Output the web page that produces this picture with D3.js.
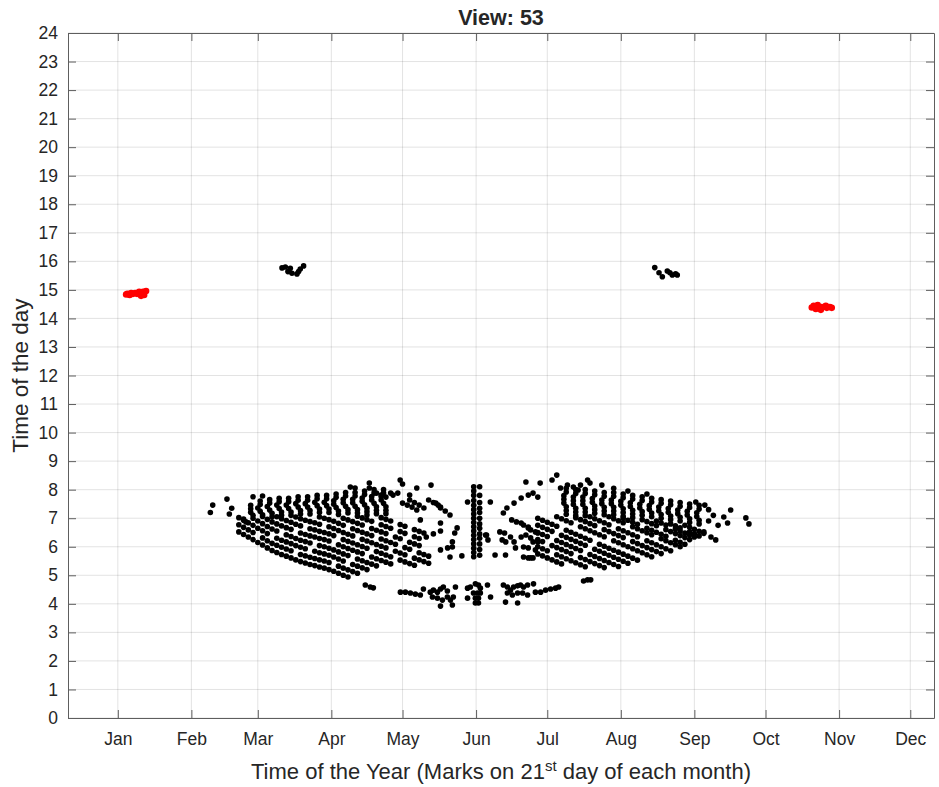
<!DOCTYPE html>
<html>
<head>
<meta charset="utf-8">
<script src="https://cdn.jsdelivr.net/npm/d3@7"></script>
<style>
  body { margin: 0; background: #fff; }
  svg { display: block; }
  text { font-family: Helvetica, "Liberation Sans", Arial, sans-serif; fill: #262626; }
</style>
</head>
<body>
<div id="chart"></div>
<script>
// Axis labels and ticks
const monthLabels = ['Jan', 'Feb', 'Mar', 'Apr', 'May', 'Jun', 'Jul', 'Aug', 'Sep', 'Oct', 'Nov', 'Dec'];
const monthTickDays = [21, 52, 80, 111, 141, 172, 202, 233, 264, 294, 325, 355];
const hourTicks = [0,1,2,3,4,5,6,7,8,9,10,11,12,13,14,15,16,17,18,19,20,21,22,23,24];

// [day of year, hour of day]
const redPoints = [
  [25,14.86],[26.6,14.89],[28.3,14.89],[30,14.93],[31.6,14.93],[32.9,14.96],[30.8,14.79],[29.1,14.86],[27.4,14.86],[32.1,14.82],[26,14.82],[24.5,14.84],
  [314.3,14.44],[316,14.47],[317.7,14.40],[319.4,14.44],[321.1,14.40],[321.9,14.37],[315.2,14.33],[317.3,14.30],[319.8,14.37],[313.5,14.38]
];

const topBlack = [
  [90.2,15.77],[91.6,15.80],[92.7,15.64],[93.7,15.76],[94.4,15.58],[96.5,15.56],[97.2,15.64],[97.9,15.73],[99.3,15.84],
  [247.3,15.78],[249.1,15.60],[250.5,15.46],[252.6,15.66],[253.7,15.60],[254.7,15.52],[256.1,15.56],[256.8,15.52]
];

const leftSparse = [
  [61,7.46],[60,7.20],[67,7.67],[69,7.35],[68,7.15],[74,6.97],[75,6.87],[78,7.75],[82,7.78],
  [140,8.34],[141,8.20],[153,8.16],[147,8.06],[127,8.23],[127,8.06],[121,8.06],[119,8.09],
  [130,7.88],[132,7.81],[134,7.74],[136,7.88],[137,7.81],[139,7.88],[144,7.81],
  [141,7.53],[143,7.46],[145,7.39],[147,7.29],
  [144,7.64],[146,7.55],[148,7.46],[150,7.36],
  [152,7.64],[154,7.55],[156,7.46],[157,7.36],
  [155,7.53],[157,7.39],[159,7.25],[161,7.11],
  [148.5,6.94],[157,6.83],[163,6.48],[164,6.66],
  [151,6.34],[154,6.45],[157,6.55],
  [157,5.89],[160,5.96],[162,5.99],[161,5.64],[166,5.68],[162,6.17]
];

const leftArcs = [
  [77,7.45],[77,7.33],[77,7.21],[78,7.10],
  [81,7.60],[81,7.48],[80,7.36],[81,7.24],[82,7.12],
  [85,7.65],[85,7.53],[84,7.41],[85,7.29],[86,7.17],[86,7.05],
  [89,7.70],[89,7.58],[88,7.46],[89,7.34],[90,7.22],[90,7.10],
  [93,7.70],[93,7.58],[92,7.46],[93,7.34],[94,7.22],[94,7.10],
  [97,7.75],[97,7.63],[96,7.51],[97,7.39],[98,7.27],[98,7.15],
  [101,7.75],[101,7.63],[100,7.51],[101,7.39],[102,7.27],[102,7.15],
  [105,7.80],[105,7.68],[104,7.56],[105,7.44],[106,7.32],[106,7.20],
  [109,7.80],[109,7.68],[108,7.56],[109,7.44],[110,7.32],[110,7.20],
  [113,7.85],[113,7.73],[112,7.61],[112,7.49],[113,7.37],[114,7.25],[114,7.13],
  [117,7.90],[117,7.78],[116,7.66],[116,7.54],[117,7.42],[118,7.30],[118,7.18],
  [121,7.90],[121,7.78],[120,7.66],[120,7.54],[121,7.42],[122,7.30],[122,7.18],
  [125,7.95],[125,7.83],[124,7.71],[124,7.59],[125,7.47],[126,7.35],[126,7.23],[126,7.11],
  [129,8.00],[129,7.88],[128,7.76],[128,7.64],[129,7.52],[130,7.40],[130,7.28],[130,7.16],
  [133,8.00],[133,7.88],[132,7.76],[132,7.64],[133,7.52],[134,7.40],[134,7.28],[134,7.16]
];

const leftStreaks = [
  [72,6.52],[74,6.43],[76,6.34],[78,6.25],[80,6.15],[82,6.06],[84,5.96],[86,5.87],[88,5.80],[90,5.73],[92,5.67],[94,5.61],
  [96,5.54],[98,5.48],[100,5.43],[102,5.38],[104,5.34],[106,5.29],[108,5.25],[110,5.20],[112,5.14],[114,5.07],[116,5.00],[118,4.94],
  [72,6.77],[74,6.68],[76,6.59],[78,6.50],[82,6.31],[84,6.21],[86,6.12],[88,6.05],[90,5.98],[92,5.92],[94,5.86],[98,5.73],
  [100,5.68],[102,5.63],[104,5.59],[106,5.54],[108,5.50],[110,5.45],[114,5.32],[116,5.25],[118,5.19],[120,5.13],[122,5.07],
  [72,7.02],[74,6.93],[76,6.84],[78,6.75],[80,6.65],[82,6.56],[84,6.46],[88,6.30],[90,6.23],[92,6.17],[94,6.11],[96,6.04],
  [98,5.98],[100,5.93],[104,5.84],[106,5.79],[108,5.75],[110,5.70],[112,5.64],[114,5.57],[116,5.50],[120,5.38],[122,5.32],[124,5.26],[126,5.20],
  [78,7.00],[80,6.90],[82,6.81],[84,6.71],[86,6.62],[88,6.55],[92,6.42],[94,6.36],[96,6.29],[98,6.23],[100,6.18],[102,6.13],
  [106,6.04],[108,6.00],[110,5.95],[112,5.89],[114,5.82],[116,5.75],[118,5.69],[122,5.57],[124,5.51],[126,5.45],[128,5.39],[130,5.33],
  [82,7.06],[84,6.96],[86,6.87],[88,6.80],[90,6.73],[92,6.67],[94,6.61],[98,6.48],[100,6.43],[102,6.38],[104,6.34],[106,6.29],
  [108,6.25],[110,6.20],[114,6.07],[116,6.00],[118,5.94],[120,5.88],[122,5.82],[124,5.76],[128,5.64],[130,5.58],[132,5.52],[134,5.46],[136,5.40],
  [88,7.05],[90,6.98],[92,6.92],[94,6.86],[96,6.79],[98,6.73],[102,6.63],[104,6.59],[106,6.54],[108,6.50],[110,6.45],[112,6.39],
  [116,6.25],[118,6.19],[120,6.13],[122,6.07],[124,6.01],[126,5.95],[130,5.83],[132,5.77],[134,5.71],[136,5.65],[140,5.53],[142,5.47],[144,5.41],[146,5.35],
  [96,7.04],[98,6.98],[100,6.93],[102,6.88],[104,6.84],[106,6.79],[110,6.70],[112,6.64],[114,6.57],[116,6.50],[118,6.44],[120,6.38],
  [124,6.26],[126,6.20],[128,6.14],[130,6.08],[132,6.02],[134,5.96],[138,5.84],[140,5.78],[142,5.72],[146,5.60],[148,5.54],[150,5.48],[152,5.42],
  [106,7.04],[108,7.00],[110,6.95],[112,6.89],[114,6.82],[116,6.75],[120,6.63],[122,6.57],[124,6.51],[126,6.45],[128,6.39],
  [132,6.27],[134,6.21],[136,6.15],[138,6.09],[142,5.97],[144,5.91],[148,5.79],[150,5.73],[152,5.67],
  [116,7.00],[118,6.94],[120,6.88],[122,6.82],[124,6.76],[128,6.64],[130,6.58],[132,6.52],[134,6.46],[138,6.34],[140,6.28],[144,6.16],[146,6.10],[148,6.04],
  [122,7.07],[124,7.01],[126,6.95],[128,6.89],[132,6.77],[134,6.71],[136,6.65],[140,6.53],[142,6.47],[146,6.35],[148,6.29],
  [132,7.02],[134,6.96],[136,6.90],[140,6.78],[142,6.72],[146,6.60],[148,6.54],[150,6.48]
];

const junColumn = [
  [171,8.10],[171,7.95],[171,7.80],[171,7.62],[171,7.45],[171,7.30],[171,7.15],[171,7.00],[171,6.85],[171,6.70],[171,6.55],[171,6.40],[171,6.25],[171,6.10],[171,5.95],[171,5.80],[171,5.65],
  [173.5,8.10],[173.5,7.80],[173.5,7.55],[173.5,7.35],[173.5,7.20],[173.5,7.00],[173.5,6.80],[173.5,6.65],[173.5,6.45],[173.5,6.30],[173.5,6.10],[173.5,5.90],[173.5,5.70],
  [168.4,7.57],[176.4,6.41]
];

const dawnPoints = [
  [125.3,4.66],[127.4,4.59],[128.7,4.56],
  [140.1,4.41],[142.2,4.41],[144.3,4.38],[146.4,4.34],[148.5,4.31],[149.8,4.52],
  [152.7,4.41],[154,4.48],[155.7,4.41],[157,4.52],[158.2,4.59],[159.9,4.45],[153.6,4.24],[155.7,4.20],[157.8,4.13],[159.9,4.24],[161.2,4.13],[163.3,4.59],[162.4,4.24],[157,3.92],[162,3.96],
  [168.4,4.55],[169.6,4.59],[171.7,4.70],[173,4.66],[173.8,4.55],[172.6,4.38],[170.9,4.38],[173.8,4.38],[171.7,4.20],[173,4.20],[171.7,4.03],[173,4.03],[168.4,4.20],[178.1,4.24],[176.8,4.66],
  [183.5,4.66],[185.2,4.59],[186.5,4.48],[187.8,4.59],[189.5,4.63],[190.7,4.66],[192,4.59],[193.7,4.66],[185.2,4.38],[187.3,4.31],[189.5,4.38],[191.6,4.38],[193.7,4.31],[184.4,4.06],[189.5,4.03],[196.2,4.70],
  [197,4.41],[199.2,4.41],[201.3,4.48],[203.4,4.52],[205.5,4.55],[206.8,4.59],
  [217.3,4.80],[219,4.84],[220.3,4.84]
];

const rightSparse = [
  [178,7.57],[183.5,7.18],[185,7.36],[188,7.53],[191,7.71],[194,7.81],[193,8.27],[199,8.23],[204,8.34],[206,8.51],[196,7.88],[198,7.74],
  [187,6.94],[189,6.87],[191,6.83],[192,6.76],[194,6.69],
  [182,6.52],[184,6.48],[186.5,6.34],[183,6.24],[184.5,6.17],[188,6.17],[188.6,5.96],
  [180,5.71],[184.4,5.71],[192,5.64],[194,5.61],[195,5.61],[196,5.61],
  [192,5.99],[194,5.96],[197,5.89],[191,6.34],[193,6.41],[195,6.31],[196,6.17],[198,6.17],
  [194,6.66],[195,6.59],[197,6.52],[198,6.48],[176,6.41],[177,6.24],
  [219,8.34],[220,8.23],[225,8.16],[210.5,8.16],[213,8.09],[215,7.99],[216,8.16],[207.6,8.06],[230,8.05],[236,7.95],[244,7.85],
  [264.6,7.57],[268.4,7.46],[276.4,7.04],[279.3,7.29],[278,6.83],[285.7,7.01],[287,6.80],[270,7.30],[272,7.10],
  [268,6.52],[271,6.34],[273,6.24],[270,6.90],[274,6.75]
];

const rightArcs = [
  [210,8.05],[210,7.92],[209,7.79],[209,7.66],[209,7.53],[210,7.40],[210,7.27],[210,7.14],
  [214,8.00],[214,7.87],[213,7.74],[213,7.61],[213,7.48],[214,7.35],[214,7.22],[214,7.09],
  [218,8.00],[218,7.87],[217,7.74],[217,7.61],[217,7.48],[218,7.35],[218,7.22],[218,7.09],
  [222,7.95],[222,7.82],[221,7.69],[221,7.56],[222,7.43],[222,7.30],[222,7.17],
  [226,7.90],[226,7.77],[225,7.64],[225,7.51],[226,7.38],[226,7.25],[226,7.12],
  [230,7.90],[230,7.77],[229,7.64],[229,7.51],[230,7.38],[230,7.25],[230,7.12],
  [234,7.85],[234,7.72],[233,7.59],[233,7.46],[234,7.33],[234,7.20],[234,7.07],
  [238,7.80],[238,7.67],[237,7.54],[237,7.41],[238,7.28],[238,7.15],[238,7.02],
  [242,7.75],[242,7.62],[241,7.49],[241,7.36],[242,7.23],[242,7.10],
  [246,7.70],[246,7.57],[245,7.44],[245,7.31],[246,7.18],[246,7.05],
  [250,7.65],[250,7.52],[249,7.39],[249,7.26],[250,7.13],[250,7.00],
  [254,7.60],[254,7.47],[253,7.34],[253,7.21],[254,7.08],[254,6.95],
  [258,7.55],[258,7.42],[257,7.29],[257,7.16],[258,7.03],[258,6.90],
  [262,7.50],[262,7.37],[261,7.24],[261,7.11],[262,6.98],[262,6.85],
  [266,7.45],[266,7.32],[265,7.19],[265,7.06],[266,6.93],[266,6.80]
];

const rightStreaks = [
  [198,7.00],[200,6.93],[202,6.86],[204,6.79],[206,6.72],[210,6.58],[212,6.51],[214,6.44],[216,6.37],[218,6.30],[220,6.23],
  [224,6.09],[226,6.02],[228,5.95],[230,5.88],[232,5.81],[234,5.74],[236,5.67],[238,5.60],[240,5.53],
  [198,6.75],[200,6.68],[202,6.61],[204,6.54],[208,6.40],[210,6.33],[212,6.26],[214,6.19],[216,6.12],[218,6.05],
  [222,5.91],[224,5.84],[226,5.77],[228,5.70],[230,5.63],[232,5.56],[234,5.49],[236,5.42],
  [198,6.50],[200,6.43],[202,6.36],[206,6.22],[208,6.15],[210,6.08],[212,6.01],[214,5.94],[216,5.87],
  [220,5.73],[222,5.66],[224,5.59],[226,5.52],[228,5.45],[230,5.38],[232,5.31],
  [198,6.25],[200,6.18],[204,6.04],[206,5.97],[208,5.90],[210,5.83],[212,5.76],[216,5.62],[218,5.55],[220,5.48],[222,5.41],[224,5.34],[226,5.27],
  [198,6.00],[200,5.93],[202,5.86],[206,5.72],[208,5.65],[210,5.58],[212,5.51],[214,5.44],[216,5.37],[218,5.30],
  [198,5.75],[200,5.68],[202,5.61],[204,5.54],[206,5.47],[208,5.40],
  [206,7.05],[208,6.98],[210,6.91],[212,6.84],[216,6.70],[218,6.63],[220,6.56],[222,6.49],[224,6.42],[226,6.35],
  [230,6.21],[232,6.14],[234,6.07],[236,6.00],[238,5.93],[240,5.86],[242,5.79],[244,5.72],[246,5.65],
  [214,7.02],[216,6.95],[218,6.88],[220,6.81],[222,6.74],[226,6.60],[228,6.53],[230,6.46],[232,6.39],[234,6.32],
  [238,6.18],[240,6.11],[242,6.04],[244,5.97],[246,5.90],[248,5.83],[250,5.76],
  [220,7.05],[222,6.98],[224,6.91],[226,6.84],[228,6.77],[232,6.63],[234,6.56],[236,6.49],[238,6.42],[240,6.35],
  [244,6.21],[246,6.14],[248,6.07],[250,6.00],[252,5.93],[254,5.86],
  [228,7.05],[230,6.98],[232,6.91],[234,6.84],[238,6.70],[240,6.63],[242,6.56],[244,6.49],[246,6.42],
  [250,6.28],[252,6.21],[254,6.14],[256,6.07],[258,6.00],
  [234,7.00],[236,6.93],[238,6.86],[240,6.79],[244,6.65],[246,6.58],[248,6.51],[250,6.44],[252,6.37],[256,6.23],[258,6.16],[260,6.09],
  [242,6.95],[244,6.88],[246,6.81],[248,6.74],[252,6.60],[254,6.53],[256,6.46],[258,6.39],[260,6.32],[262,6.25],
  [248,6.90],[250,6.83],[252,6.76],[256,6.62],[258,6.55],[260,6.48],[262,6.41],[264,6.34],
  [254,6.80],[256,6.73],[258,6.66],[262,6.52],[264,6.45],[266,6.38],
  [260,6.75],[262,6.68],[264,6.61],[266,6.54],[268,6.47]
];

const blackPoints = [].concat(topBlack, leftSparse, leftArcs, leftStreaks, junColumn, dawnPoints, rightSparse, rightArcs, rightStreaks);

// Layout
const W = 939, H = 787;
const margin = { top: 33, right: 5, bottom: 69, left: 68 };
const width = W - margin.left - margin.right;
const height = H - margin.top - margin.bottom;

const svg = d3.select('#chart')
    .append('svg')
    .attr('width', W)
    .attr('height', H);

const g = svg.append('g')
    .attr('transform', `translate(${margin.left},${margin.top})`);

const x = d3.scaleLinear().domain([0, 365]).range([0, width]);
const y = d3.scaleLinear().domain([0, 24]).range([height, 0]);

// Grid lines
g.append('g')
    .selectAll('line')
    .data(hourTicks)
    .enter()
    .append('line')
    .attr('x1', 0).attr('x2', width)
    .attr('y1', d => y(d)).attr('y2', d => y(d))
    .attr('stroke', '#262626').attr('stroke-opacity', 0.13).attr('stroke-width', 1);

g.append('g')
    .selectAll('line')
    .data(monthTickDays)
    .enter()
    .append('line')
    .attr('y1', 0).attr('y2', height)
    .attr('x1', d => x(d)).attr('x2', d => x(d))
    .attr('stroke', '#262626').attr('stroke-opacity', 0.13).attr('stroke-width', 1);

// Points
g.append('g')
    .selectAll('circle')
    .data(blackPoints)
    .enter()
    .append('circle')
    .attr('cx', d => x(d[0]))
    .attr('cy', d => y(d[1]))
    .attr('r', 2.8)
    .attr('fill', '#000');

g.append('g')
    .selectAll('circle')
    .data(redPoints)
    .enter()
    .append('circle')
    .attr('cx', d => x(d[0]))
    .attr('cy', d => y(d[1]))
    .attr('r', 3.3)
    .attr('fill', '#ff0000');

// Axes with inward ticks on all four sides
const monthFmt = (d, i) => monthLabels[i];
const styleAxis = sel => {
    sel.selectAll('path.domain').attr('stroke', '#5e5e5e').attr('stroke-width', 1);
    sel.selectAll('.tick line').attr('stroke', '#5e5e5e');
    sel.selectAll('text').attr('fill', '#262626').style('font-size', '17.5px')
        .style('font-family', 'Helvetica, "Liberation Sans", Arial, sans-serif');
};

g.append('g')
    .attr('transform', `translate(0,${height})`)
    .call(d3.axisBottom(x).tickValues(monthTickDays).tickFormat(monthFmt).tickSizeInner(-8).tickSizeOuter(0).tickPadding(15))
    .call(styleAxis);

g.append('g')
    .call(d3.axisTop(x).tickValues(monthTickDays).tickFormat('').tickSizeInner(-8).tickSizeOuter(0))
    .call(styleAxis);

g.append('g')
    .call(d3.axisLeft(y).tickValues(hourTicks).tickFormat(d3.format('d')).tickSizeInner(-8).tickSizeOuter(0).tickPadding(10))
    .call(styleAxis);

g.append('g')
    .attr('transform', `translate(${width},0)`)
    .call(d3.axisRight(y).tickValues(hourTicks).tickFormat('').tickSizeInner(-8).tickSizeOuter(0))
    .call(styleAxis);

// Title
svg.append('text')
    .attr('x', margin.left + width / 2)
    .attr('y', 25)
    .attr('text-anchor', 'middle')
    .style('font-size', '21.5px')
    .style('font-weight', 'bold')
    .attr('fill', '#000')
    .text('View: 53');

// Axis labels
svg.append('text')
    .attr('transform', `translate(28,${margin.top + height / 2}) rotate(-90)`)
    .attr('text-anchor', 'middle')
    .style('font-size', '22.5px')
    .text('Time of the day');

const xl = svg.append('text')
    .attr('x', margin.left + width / 2)
    .attr('y', 779)
    .attr('text-anchor', 'middle')
    .style('font-size', '22px');
xl.append('tspan').text('Time of the Year (Marks on 21');
xl.append('tspan').attr('dy', -8).style('font-size', '15px').text('st');
xl.append('tspan').attr('dy', 8).text(' day of each month)');
</script>
</body>
</html>
